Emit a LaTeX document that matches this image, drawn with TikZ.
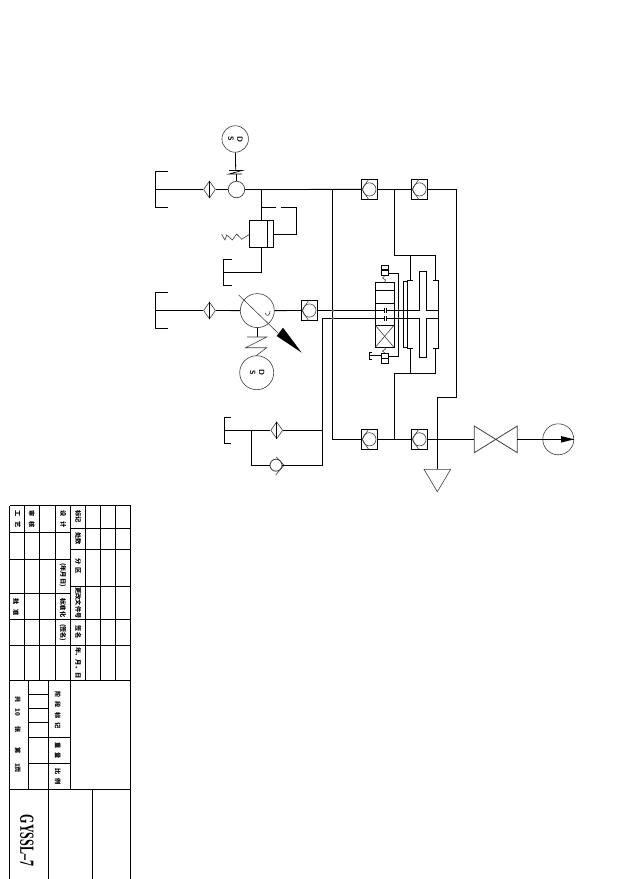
\documentclass[tikz,border=0pt]{standalone}
\usepackage{fontspec}
\setmainfont{Liberation Serif}
\newfontfamily\cjk{Noto Sans CJK SC}
\usetikzlibrary{shapes.geometric,calc}
\tikzset{
  pipe/.style={line width=0.9pt,black},
  thin sym/.style={line width=0.6pt,black!75},
  cvbox/.style={draw,line width=0.9pt,rectangle,minimum width=16.4pt,minimum height=20pt,inner sep=0pt},
  filt/.style={draw,thin sym,diamond,minimum width=12pt,minimum height=17pt,inner sep=0pt},
  round sym/.style={draw,thin sym,circle,inner sep=0pt},
  solbox/.style={draw,line width=0.8pt,rectangle,minimum width=7pt,minimum height=10pt,inner sep=0pt},
  tb/.style={line width=0.8pt,black},
  tbl/.style={rotate=-90,inner sep=0pt,font=\cjk\fontsize{6.2}{7}\selectfont\bfseries},
  motl/.style={rotate=-90,inner sep=0pt,font=\sffamily\bfseries\fontsize{7.5}{8}\selectfont},
}
\newcommand{\chkv}[3]{%
  \node[cvbox] (#1) at (#2,#3) {};
  \node[round sym,minimum size=13.2pt] (#1c) at (#2,#3) {};
  \draw[thin sym] (#2-0.8,#3-10) -- (#2-7.4,#3) -- (#2-0.8,#3+10);
}
\newcommand{\filtr}[3]{%
  \node[filt] (#1) at (#2,#3) {};
  \draw[line width=0.7pt] (#2,#3-8.5) -- (#2,#3+8.5);
}
\newcommand{\bracket}[5]{% name, x, y, half height, tab length
  \coordinate (#1) at (#2,#3);
  \draw[pipe] (#2+#5,#3-#4) -- (#2,#3-#4) -- (#2,#3+#4) -- (#2+#5,#3+#4);
}
\begin{document}
\begin{tikzpicture}[x=1pt,y=-1pt]
\useasboundingbox (0,0) rectangle (644,879);
\fill[white] (0,0) rectangle (644,879);

% motor 1 and its coupling
\node[round sym,minimum size=26.5pt] (m1) at (235.2,139) {};
\node[motl] (m1s) at (231,139) {S};
\node[motl] (m1d) at (240,139) {D};
\node[round sym,minimum size=16.5pt,line width=0.7pt] (p1) at (236.5,189.5) {};
\coordinate (c1) at (235.7,170.5);
\coordinate (c1b) at (236.5,174);
\draw[line width=0.8pt] (m1) -- (c1);
\draw[line width=0.7pt] (229,170.5) -- (242,170.5) -- (229,174) -- (242,174);
\draw[line width=0.8pt] (c1b) -- (p1);

% suction 1
\bracket{b1}{155.5}{189.5}{18}{12.5}
\filtr{f1}{209.5}{189.5}
\draw[pipe] (b1) -- (f1);
\draw[pipe] (f1) -- (p1);

% check valves
\chkv{cv1}{369.4}{189.4}
\chkv{cv2}{419.5}{189.4}
\chkv{cv3}{309.4}{310.5}
\chkv{cv4}{369.4}{439.3}
\chkv{cv5}{419.5}{439.3}

% main line
\draw[pipe] (p1) -- (cv1);
\draw[pipe] (cv1) -- (cv2);
\coordinate (j1) at (261.6,189.5);
\coordinate (j2) at (332.6,189.5);
\coordinate (j3) at (332.6,439.3);
\draw[pipe] (j2) -- (j3) -- (cv4);
\draw[pipe] (cv4) -- (cv5);

% relief valve
\node[draw,line width=0.9pt,rectangle,minimum width=24pt,minimum height=27.4pt,inner sep=0pt] (rv) at (261.6,233.8) {};
\draw[pipe] (267.5,220.1) -- (267.5,247.5);
\draw[pipe] (j1) -- (rv.north);
\coordinate (rp) at (261.6,207.5);
\draw[pipe] (rp) -- (276,207.5);
\draw[pipe] (281,207.5) -- (296.5,207.5) -- (296.5,234.2) -- (273.6,234.2);
\draw[thin sym] (249.6,234.2) -- (241.7,239.3) -- (236.7,234) -- (232.3,240) -- (226.7,235) -- (225,240) -- (221.7,234.3);
\bracket{b2}{223.5}{272}{13}{8.5}
\draw[pipe] (b2) -- (261.6,272) -- (rv.south);

% pump 2
\bracket{b3}{155.5}{310.5}{18}{12.5}
\filtr{f2}{209.5}{310.5}
\node[round sym,minimum size=34pt] (p2) at (257.3,310.6) {};
\draw[pipe] (b3) -- (f2);
\draw[pipe] (f2) -- (p2);
\draw[pipe] (p2) -- (cv3);
\draw[thin sym] (238.7,295) -- (278.3,333.3);
\fill[black] (276.7,336) -- (283,327.7) -- (301.7,352.7) -- cycle;
\draw[thin sym] (270,311) .. controls (270,316) and (266,317) .. (265.2,313);

% motor 2
\node[round sym,minimum size=34pt] (m2) at (256.7,372.7) {};
\node[motl] (m2s) at (252.7,372.7) {S};
\node[motl] (m2d) at (261.7,372.7) {D};
\coordinate (c2) at (257.3,337);
\draw[pipe] (p2) -- (c2);
\draw[thin sym] (247,337) -- (266.7,337) -- (245.7,347.7) -- (266.7,347.7) -- (255.7,356);

% return group
\bracket{b4}{224.7}{430.3}{12.7}{6.3}
\filtr{f3}{276.7}{430.3}
\coordinate (r1) at (322.7,430.3);
\coordinate (r2) at (322.7,465.2);
\coordinate (r3) at (322.7,318.4);
\coordinate (r4) at (251.3,430.3);
\coordinate (r5) at (251.3,465.2);
\node[round sym,minimum size=12pt,line width=0.8pt] (cr) at (276,465.2) {};
\draw[thin sym] (276,456.7) -- (284,465.2) -- (275.7,475);
\draw[pipe] (b4) -- (f3);
\draw[pipe] (f3) -- (r1);
\draw[pipe] (r4) -- (r5) -- (cr);
\draw[pipe] (cr) -- (r2) -- (r3);

% directional valve
\node[draw,line width=0.9pt,rectangle,minimum width=18.7pt,minimum height=65pt,inner sep=0pt] (dv) at (384.6,314.8) {};
\draw[pipe] (375.3,290.7) -- (394,290.7);
\draw[pipe] (375.3,303.3) -- (394,303.3);
\draw[pipe] (375.3,325.3) -- (394,325.3);
\draw[thin sym] (375.3,325.3) -- (394,347.3);
\draw[thin sym] (394,325.3) -- (375.3,347.3);
\coordinate (a1) at (384.4,310.5);
\coordinate (a2) at (386.6,310.5);
\coordinate (a3) at (384.4,318.4);
\coordinate (a4) at (386.6,318.4);
\draw[pipe] (cv3) -- (a1);
\draw[pipe] (r3) -- (a3);
\draw[line width=0.8pt] (384.4,307.8) -- (384.4,312.8) (386.6,307.8) -- (386.6,312.8);
\draw[line width=0.8pt] (384.4,315.8) -- (384.4,320.8) (386.6,315.8) -- (386.6,320.8);

% solenoids
\node[solbox] (s1) at (384.8,270.3) {};
\node[solbox] (s2) at (384.8,358.3) {};
\draw[line width=1.4pt] (381.3,270) -- (388.3,270);
\draw[line width=1.4pt] (381.3,358.6) -- (388.3,358.6);
\draw[thin sym] (s1.south) -- (382.5,278) -- (385.5,280) -- (384.6,282.3);
\draw[thin sym] (s2.north) -- (382.5,351) -- (385.5,349) -- (384.6,347.3);
\draw[pipe] (388.3,273.3) -- (398.6,273.3) -- (398.6,356.7) -- (388.3,356.7);
\bracket{b5}{369.3}{355.7}{3.6}{3}
\draw[pipe] (b5) -- (381.3,355.7);
\foreach \p/\q in {332.9/310.5,332.9/318.4,398.6/310.5,398.6/318.4}
  \fill[black!60] (\p,\q) circle (1.4);

% cylinder
\draw[pipe] (403.3,281) -- (407.3,281) (403.3,347.3) -- (407.3,347.3) (403.3,281) -- (403.3,347.3);
\draw[pipe] (413.3,280.3) -- (407.3,280.3) -- (407.3,348.3) -- (413.3,348.3);
\draw[pipe] (432.7,280.3) -- (438.3,280.3) -- (438.3,348.3) -- (432.7,348.3);
\draw[pipe] (419.7,310.5) -- (419.7,271.7) -- (426.3,271.7) -- (426.3,310.5) -- (438.3,310.5);
\draw[pipe] (419.7,318.4) -- (419.7,357) -- (426.3,357) -- (426.3,318.4) -- (438.3,318.4);
\draw[pipe] (a2) -- (419.7,310.5);
\draw[pipe] (a4) -- (419.7,318.4);
% manifolds
\coordinate (k1) at (394.5,189.4);
\coordinate (k2) at (394.5,255.3);
\coordinate (k3) at (435.3,255.3);
\coordinate (k4) at (410.4,255.3);
\coordinate (k5) at (394.5,373.3);
\coordinate (k6) at (435.3,373.3);
\coordinate (k7) at (410.4,373.3);
\coordinate (k8) at (394.5,439.3);
\draw[pipe] (k1) -- (k2) -- (k3) -- (435.3,280.3);
\draw[pipe] (k4) -- (410.4,280.3);
\draw[pipe] (k8) -- (k5) -- (k6) -- (435.3,348.3);
\draw[pipe] (k7) -- (410.4,348.3);

% tank return
\coordinate (t1) at (456.7,189.4);
\coordinate (t2) at (456.7,397.3);
\coordinate (t3) at (437.3,397.3);
\coordinate (t4) at (437.3,469.3);
\draw[thin sym] (424,469.3) -- (450.7,469.3) -- (437.3,491.7) -- cycle;
\draw[pipe] (cv2) -- (t1) -- (t2) -- (t3) -- (t4);

% throttle and gauge
\coordinate (v1) at (474.3,439.3);
\coordinate (v2) at (517.3,439.3);
\draw[thin sym,line width=0.8pt] (474.3,426) -- (517.3,452.7) -- (517.3,426) -- (474.3,452.7) -- cycle;
\draw[pipe] (cv5) -- (v1);
\node[round sym,minimum size=31pt] (g) at (558.3,439.3) {};
\coordinate (g2) at (574,439.3);
\draw[pipe] (v2) -- (g2);
\fill[black] (561,436) -- (574,439.3) -- (561,442.6) -- cycle;

% title block
\draw[tb] (9.7,505.7) -- (130.7,505.7);
\draw[tb] (9.7,505.7) -- (9.7,879) (130.7,505.7) -- (130.7,879);
\draw[tb] (24.3,505.7) -- (24.3,680) (39.7,505.7) -- (39.7,680) (55.7,505.7) -- (55.7,680);
\draw[tb] (70.7,505.7) -- (70.7,789.3);
\draw[tb] (85.7,505.7) -- (85.7,680) (100.7,505.7) -- (100.7,680) (115.7,505.7) -- (115.7,680);
\foreach \q in {532.3,559,593.3,619.3,645.7} \draw[tb] (9.7,\q) -- (70.7,\q);
\foreach \q in {528.7,549.3,586,619.3,645.7} \draw[tb] (70.7,\q) -- (130.7,\q);
\draw[tb] (9.7,680) -- (130.7,680);
\draw[tb] (9.7,789.3) -- (130.7,789.3);
\draw[tb] (28.3,680) -- (28.3,789.3);
\draw[tb] (48.3,680) -- (48.3,879);
\draw[tb] (92.3,789.3) -- (92.3,879);
\foreach \q in {694.3,708.3,722.3} \draw[tb] (28.3,\q) -- (48.3,\q);
\foreach \q in {737.3,763.3} \draw[tb] (28.3,\q) -- (70.7,\q);

\node[tbl] (t01) at (17.7,519) {工\hspace{5.5pt}艺};
\node[tbl] (t02) at (31.7,519) {审\hspace{5.5pt}核};
\node[tbl] (t03) at (63.3,519) {设\hspace{5.5pt}计};
\node[tbl] (t04) at (78.3,516.7) {标记};
\node[tbl] (t05) at (78.3,538.3) {处数};
\node[tbl] (t06) at (78.3,566) {分\hspace{3.5pt}区};
\node[tbl] (t07) at (78.3,603) {更改文件号};
\node[tbl] (t08) at (78.3,632) {签名};
\node[tbl] (t09) at (78.3,663) {年、月、日};
\node[tbl] (t10) at (63,575) {(年月日)};
\node[tbl] (t11) at (63,608) {标准化};
\node[tbl] (t12) at (63,632.7) {(签名)};
\node[tbl] (t13) at (16,607) {批\hspace{4pt}准};
\node[tbl] (t14) at (57.7,710) {阶\hspace{4pt}段\hspace{4pt}标\hspace{4pt}记};
\node[tbl] (t15) at (57.7,750.7) {重\hspace{4pt}量};
\node[tbl] (t16) at (57.7,776.7) {比\hspace{4pt}例};
\node[tbl] (t17) at (17.7,700) {共};
\node[tbl] (t18) at (17.7,712) {10};
\node[tbl] (t19) at (17.7,730) {张};
\node[tbl] (t20) at (17.7,750.7) {第};
\node[tbl] (t21) at (17.7,768) {1页};
\node[rotate=-90,inner sep=0pt,font=\bfseries\fontsize{20}{20}\selectfont] (code) at (27,840.5) {\scalebox{0.6}[1]{GYSSL--7}};
\end{tikzpicture}
\end{document}
